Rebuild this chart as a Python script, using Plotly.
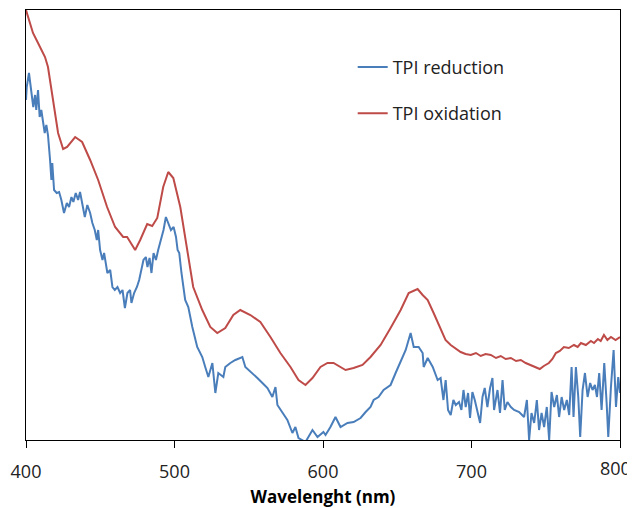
import plotly.graph_objects as go

# wavelength (nm) and absorbance (a.u.)
ox_wl = [400.0, 404.7, 408.1, 412.8, 414.8, 418.2, 421.6, 425.0, 427.7, 433.1, 437.8, 443.2,
         448.6, 454.6, 460.0, 465.4, 468.1, 473.5, 476.9, 481.6, 485.0, 488.4, 492.4, 495.8,
         499.2, 503.9, 508.6, 512.6, 518.7, 524.1, 528.8, 534.2, 539.6, 544.3, 551.1, 557.8,
         564.6, 571.3, 578.1, 583.5, 588.2, 592.9, 598.3, 603.0, 607.1, 611.8, 615.2, 620.6,
         626.6, 632.0, 638.8, 645.5, 652.3, 657.7, 663.7, 667.1, 670.5, 674.5, 679.2, 682.5,
         686.0, 689.5, 692.7, 696.0, 699.5, 703.0, 706.2, 709.5, 713.0, 716.5, 719.7, 723.0,
         726.5, 730.0, 733.2, 736.5, 740.0, 743.3, 746.0, 748.7, 752.1, 754.5, 756.8, 759.5,
         762.2, 765.5, 769.0, 771.5, 773.7, 777.0, 780.4, 782.5, 785.1, 787.0, 789.2, 791.5,
         793.9, 797.0, 800.0]
ox_abs = [0.430, 0.407, 0.397, 0.383, 0.373, 0.340, 0.307, 0.291, 0.293, 0.303, 0.298, 0.280,
          0.260, 0.233, 0.213, 0.203, 0.203, 0.190, 0.200, 0.216, 0.214, 0.222, 0.253, 0.268,
          0.262, 0.233, 0.190, 0.153, 0.130, 0.113, 0.107, 0.112, 0.125, 0.130, 0.125, 0.118,
          0.103, 0.087, 0.073, 0.060, 0.055, 0.062, 0.073, 0.077, 0.077, 0.073, 0.070, 0.072,
          0.075, 0.083, 0.095, 0.112, 0.130, 0.147, 0.151, 0.145, 0.140, 0.127, 0.110, 0.100,
          0.095, 0.091, 0.088, 0.086, 0.085, 0.087, 0.084, 0.086, 0.085, 0.082, 0.084, 0.081,
          0.082, 0.079, 0.080, 0.077, 0.075, 0.073, 0.071, 0.074, 0.077, 0.081, 0.087, 0.089,
          0.093, 0.092, 0.095, 0.093, 0.097, 0.095, 0.099, 0.097, 0.101, 0.099, 0.105, 0.100,
          0.103, 0.100, 0.103]

red_wl = [400.0, 400.5, 402.0, 403.6, 404.9, 406.1, 406.9, 408.1, 409.2, 410.3, 411.5, 412.6,
          413.7, 414.8, 416.2, 417.1, 417.7, 418.9, 420.7, 422.3, 423.8, 425.6, 427.5, 429.0,
          430.6, 431.9, 433.5, 435.1, 436.4, 438.0, 439.6, 441.3, 443.2, 444.7, 446.3, 447.7,
          448.6, 449.9, 451.5, 452.6, 453.8, 454.8, 456.7, 458.2, 459.8, 461.6, 463.4, 465.0,
          466.6, 468.3, 470.1, 471.0, 472.8, 474.7, 476.2, 477.8, 479.1, 480.7, 481.8, 483.2,
          484.5, 485.9, 487.5, 489.0, 490.9, 492.6, 494.2, 495.8, 497.6, 499.4, 501.0, 502.1,
          503.2, 504.7, 506.1, 507.2, 509.3, 512.0, 515.3, 518.7, 520.7, 522.8, 525.5, 527.5,
          529.5, 532.9, 534.2, 537.6, 541.0, 545.7, 547.7, 552.4, 555.8, 559.2, 562.6, 565.9,
          568.0, 569.3, 572.7, 576.0, 579.4, 581.4, 583.5, 588.2, 592.9, 596.3, 600.3, 601.7,
          605.0, 608.4, 611.8, 616.5, 620.6, 625.3, 628.7, 632.0, 634.1, 637.4, 640.8, 645.5,
          648.9, 652.3, 655.7, 659.0, 661.1, 664.4, 667.1, 667.8, 670.5, 673.9, 677.2, 679.2,
          681.1, 682.6, 684.2, 686.0, 687.8, 689.4, 691.6, 693.2, 694.6, 696.1, 697.7, 699.0,
          700.6, 702.2, 704.0, 705.8, 707.4, 708.9, 710.7, 712.5, 714.1, 715.2, 717.5, 719.2,
          720.9, 722.4, 724.2, 726.5, 728.7, 732.1, 735.4, 737.3, 738.8, 740.4, 742.2, 744.0,
          745.5, 747.2, 748.9, 750.7, 752.3, 753.9, 755.7, 757.5, 759.0, 760.7, 762.4, 764.2,
          765.8, 767.4, 768.7, 770.3, 771.9, 773.2, 774.8, 776.4, 778.2, 779.9, 781.5, 783.1,
          784.5, 786.0, 787.6, 789.4, 791.0, 792.1, 793.9, 795.7, 797.3, 798.8, 800.0]
red_abs = [0.340, 0.353, 0.367, 0.347, 0.333, 0.345, 0.330, 0.350, 0.323, 0.330, 0.317, 0.307,
           0.315, 0.305, 0.280, 0.260, 0.277, 0.250, 0.247, 0.248, 0.240, 0.227, 0.237, 0.233,
           0.243, 0.238, 0.247, 0.240, 0.248, 0.237, 0.223, 0.235, 0.227, 0.217, 0.210, 0.200,
           0.210, 0.190, 0.180, 0.187, 0.173, 0.167, 0.170, 0.153, 0.150, 0.153, 0.147, 0.150,
           0.132, 0.147, 0.150, 0.137, 0.147, 0.153, 0.160, 0.170, 0.180, 0.183, 0.173, 0.182,
           0.167, 0.187, 0.180, 0.190, 0.200, 0.210, 0.223, 0.217, 0.210, 0.213, 0.203, 0.190,
           0.187, 0.167, 0.153, 0.140, 0.133, 0.113, 0.093, 0.083, 0.073, 0.063, 0.077, 0.047,
           0.067, 0.063, 0.073, 0.077, 0.080, 0.083, 0.073, 0.067, 0.062, 0.057, 0.052, 0.043,
           0.053, 0.035, 0.027, 0.020, 0.007, 0.013, 0.002, -0.002, 0.010, 0.003, 0.008, 0.005,
           0.013, 0.023, 0.013, 0.017, 0.018, 0.022, 0.028, 0.033, 0.040, 0.043, 0.050, 0.055,
           0.067, 0.078, 0.090, 0.107, 0.093, 0.093, 0.087, 0.073, 0.082, 0.073, 0.060, 0.062,
           0.040, 0.060, 0.030, 0.025, 0.040, 0.035, 0.038, 0.030, 0.050, 0.033, 0.047, 0.022,
           0.048, 0.040, 0.027, 0.017, 0.043, 0.052, 0.033, 0.052, 0.062, 0.030, 0.050, 0.027,
           0.060, 0.030, 0.038, 0.033, 0.030, 0.028, 0.023, 0.040, 0.000, 0.027, 0.017, 0.040,
           0.010, 0.027, 0.013, 0.033, 0.000, 0.048, 0.033, 0.045, 0.023, 0.043, 0.030, 0.040,
           0.025, 0.073, 0.023, 0.073, 0.043, 0.003, 0.050, 0.067, 0.043, 0.057, 0.050, 0.055,
           0.043, 0.067, 0.030, 0.077, 0.037, 0.003, 0.053, 0.090, 0.033, 0.063, 0.047]

x_ticks = [400, 500, 600, 700, 800]
x_labels = ["400", "500", "600", "700", "800"]

FONT = "Open Sans"
tick_font = dict(family=FONT, size=18, color="#222")

fig = go.Figure()
fig.add_trace(go.Scatter(x=red_wl, y=red_abs, mode="lines", name="TPI reduction", legendgroup="a",
                         line=dict(color="#4a7ebb", width=2)))
fig.add_trace(go.Scatter(x=ox_wl, y=ox_abs, mode="lines", name="TPI oxidation", legendgroup="b",
                         line=dict(color="#be4b48", width=2)))

# last label is written separately, nudged left so it stays inside the page
fig.update_xaxes(range=[400, 800], tickvals=x_ticks, ticktext=x_labels[:-1] + [""], ticks="outside",
                 ticklen=7, tickcolor="black", ticklabelstandoff=8, automargin=False,
                 showline=True, linecolor="black", linewidth=1, mirror=True, showgrid=False,
                 zeroline=False, tickfont=tick_font,
                 title=dict(text="<b>Wavelenght (nm)</b>", font=dict(family=FONT, size=17, color="black"),
                            standoff=9))
fig.update_yaxes(range=[0, 0.43], showticklabels=False, ticks="", showline=True, linecolor="black",
                 linewidth=1, mirror=True, showgrid=False, zeroline=False, automargin=False)
fig.add_annotation(x=x_ticks[-1], xref="x", y=0, yref="paper", text=x_labels[-1], showarrow=False,
                   xanchor="center", yanchor="middle", xshift=-5, yshift=-28, font=tick_font)

# page body keeps its default 8px margin, so the figure is 8px smaller than the window
fig.update_layout(
    width=627, height=500,
    margin=dict(l=18, r=15, t=2, b=68),
    plot_bgcolor="white", paper_bgcolor="white",
    legend=dict(x=0.55, y=0.91, xanchor="left", yanchor="top", tracegroupgap=20,
                font=dict(family=FONT, size=18, color="#222"), bgcolor="rgba(0,0,0,0)"),
)

fig.write_html("out.html")
